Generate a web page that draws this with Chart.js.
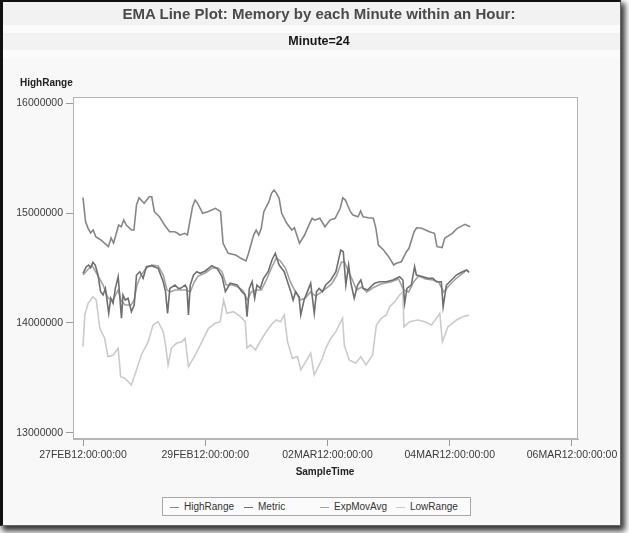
<!DOCTYPE html>
<html>
<head>
<meta charset="utf-8">
<title>EMA Line Plot</title>
<script src="https://cdn.jsdelivr.net/npm/chart.js@4.4.1/dist/chart.umd.min.js"></script>
<style>
  html, body { margin: 0; padding: 0; background: #fff; }
  #page {
    position: relative; width: 629px; height: 533px; overflow: hidden;
    font-family: "Liberation Sans", Arial, sans-serif;
  }
  #panel {
    position: absolute; left: 0; top: 0; width: 621px; height: 526px; box-sizing: border-box;
    border-left: 3px solid #111; border-top: 2px solid #111;
    border-right: 1px solid #666; border-bottom: 1px solid #666;
    box-shadow: 3px 4px 6px 1px #333;
    background: linear-gradient(to bottom,
      #f2f2f2 0px, #f2f2f2 23px, #fbfbfb 23px, #fbfbfb 31px,
      #f2f2f2 31px, #f2f2f2 48px, #fbfbfb 48px, #fbfbfb 56px,
      #f8f8f8 56px, #f8f8f8 100%);
  }
  canvas { position: absolute; left: 0; top: 0; }
  .txt { position: absolute; white-space: nowrap; }
  #title { left: 0; width: 638px; top: 5px; text-align: center; font: bold 15px/18px "Liberation Sans", Arial, sans-serif; color: #4a4a4a; }
  #subtitle { left: 0; width: 638px; top: 34px; text-align: center; font: bold 12.5px/15px "Liberation Sans", Arial, sans-serif; color: #151515; }
  #ytitle { left: 20px; top: 77px; font: bold 10px/12px "Liberation Sans", Arial, sans-serif; color: #222; }
  #xtitle { left: 0; width: 650px; top: 466px; text-align: center; font: bold 10px/12px "Liberation Sans", Arial, sans-serif; color: #222; }
  #legend {
    position: absolute; left: 162px; top: 497px; width: 309px; height: 19px; box-sizing: border-box;
    border: 1px solid #a8a8a8; background: #fbfbfb;
    font: 10px/17px "Liberation Sans", Arial, sans-serif; color: #333;
  }
  #legend .item { position: absolute; top: 0; }
  #legend .swatch { display: inline-block; width: 9px; height: 1px; vertical-align: middle; margin-right: 5px; }
</style>
</head>
<body>
<div id="page">
  <div id="panel"></div>
  <canvas id="chart" width="629" height="533"></canvas>
  <div class="txt" id="title">EMA Line Plot: Memory by each Minute within an Hour:</div>
  <div class="txt" id="subtitle">Minute=24</div>
  <div class="txt" id="ytitle">HighRange</div>
  <div class="txt" id="xtitle">SampleTime</div>
  <div id="legend"></div>
</div>
<script>
// hours after 27FEB12:00:00:00, one reading per sample (minute 24 of the hour)
const seriesNames = ["HighRange", "Metric", "ExpMovAvg", "LowRange"];

const xTickHours = [0, 48, 96, 144, 192];
const xTickLabels = ["27FEB12:00:00:00", "29FEB12:00:00:00", "02MAR12:00:00:00", "04MAR12:00:00:00", "06MAR12:00:00:00"];
const yTickValues = [13000000, 14000000, 15000000, 16000000];

const highHours = [
  0, 1, 2, 3, 4, 5, 7, 10, 11, 12,
  14, 15, 16, 17, 19, 20, 21, 22, 24, 26,
  27, 28, 30, 32, 34, 36, 37, 38, 40, 41,
  43, 44, 45, 47, 49, 52, 54, 55, 57, 60,
  62, 64, 65, 67, 68, 69, 70, 71, 73, 74,
  75, 76, 77, 78, 80, 82, 83, 85, 87, 89,
  90, 91, 93, 95, 97, 99, 101, 102, 103, 105,
  106, 108, 109, 110, 112, 114, 115, 116, 118, 120,
  122, 123, 125, 127, 128, 130, 131, 133, 136, 138,
  139, 141, 142, 143, 145, 147, 149, 150, 152
];
const highValues = [
  15140000, 14920000, 14860000, 14820000, 14845000, 14785000, 14755000, 14694000, 14773000, 14727000,
  14891000, 14875000, 14936000, 14891000, 14845000, 14845000, 15073000, 15139000, 15088000, 15148000,
  15148000, 15012000, 14966000, 14891000, 14830000, 14830000, 14818000, 14800000, 14815000, 14800000,
  15057000, 15118000, 15088000, 14997000, 15012000, 15043000, 15012000, 14725000, 14634000, 14618000,
  14588000, 14564000, 14634000, 14800000, 14845000, 14800000, 14861000, 15012000, 15103000, 15179000,
  15209000, 15179000, 15134000, 14997000, 14906000, 14845000, 14866000, 14725000, 14800000, 14906000,
  14952000, 14936000, 14952000, 14875000, 14936000, 14952000, 15043000, 15139000, 15118000, 15012000,
  14982000, 14966000, 15018000, 14966000, 14957000, 14952000, 14861000, 14709000, 14664000, 14603000,
  14527000, 14543000, 14557000, 14648000, 14679000, 14830000, 14866000, 14861000, 14830000, 14815000,
  14694000, 14685000, 14770000, 14785000, 14815000, 14861000, 14885000, 14897000, 14875000
];

const metricHours = [
  0, 1.3, 2.2, 3, 3.9, 4.8, 5.9, 6.9, 7.9, 8.8,
  10.1, 10.9, 11.8, 12.7, 13.8, 14.4, 15.1, 15.7, 16.6, 17.7,
  19, 20.1, 21, 22.3, 23.6, 24.9, 26.9, 29.5, 31.5, 32.4,
  33.2, 34.1, 36.1, 37.4, 38.2, 40.1, 40.8, 41.4, 42.1, 43.4,
  44.7, 46, 48, 50.6, 52.6, 54.6, 55.9, 57.8, 60.5, 62.4,
  63.7, 64.4, 65.3, 66.4, 67.4, 68.3, 69.6, 70.9, 72.7, 74.2,
  75.5, 77, 79, 80.3, 81.6, 82.5, 83.5, 84.8, 85.5, 86.8,
  88.1, 89.4, 90.8, 91.7, 92.7, 94, 95.3, 97.3, 99.3, 101.2,
  102.2, 103.2, 104.3, 105.2, 106.5, 107.8, 109.1, 110, 111.7, 113.7,
  114.5, 116.5, 119.1, 121.7, 124.3, 125.6, 126.3, 127.2, 128.9, 130.2,
  130.9, 133.5, 135.5, 137.4, 138.8, 140.7, 141.4, 142.7, 144.7, 146.6,
  148.6, 150.6, 151.6
];
const metricValues = [
  14452000, 14512000, 14527000, 14503000, 14552000, 14527000, 14436000, 14285000, 14255000, 14315000,
  14088000, 14225000, 14179000, 14315000, 14421000, 14255000, 14043000, 14255000, 14209000, 14225000,
  14103000, 14164000, 14436000, 14466000, 14406000, 14512000, 14521000, 14497000, 14375000, 14285000,
  14088000, 14315000, 14345000, 14315000, 14315000, 14345000, 14315000, 14073000, 14345000, 14436000,
  14466000, 14452000, 14473000, 14521000, 14497000, 14421000, 14285000, 14361000, 14345000, 14285000,
  14255000, 14057000, 14315000, 14375000, 14225000, 14345000, 14315000, 14406000, 14466000, 14573000,
  14634000, 14527000, 14466000, 14375000, 14285000, 14209000, 14285000, 14239000, 14073000, 14209000,
  14285000, 14361000, 14088000, 14285000, 14315000, 14285000, 14345000, 14391000, 14466000, 14664000,
  14648000, 14345000, 14527000, 14361000, 14225000, 14345000, 14391000, 14315000, 14300000, 14345000,
  14361000, 14375000, 14375000, 14391000, 14421000, 14391000, 14179000, 14315000, 14345000, 14512000,
  14436000, 14421000, 14406000, 14406000, 14375000, 14375000, 14148000, 14345000, 14391000, 14436000,
  14461000, 14482000, 14461000
];

const emaHours = [
  0, 3.5, 7.9, 9.8, 11.8, 13.8, 14.9, 16.5, 18.9, 20.1,
  21.2, 22.8, 24.8, 27.1, 29.5, 31.5, 33, 34.2, 36.2, 38.2,
  40.5, 42.1, 43.7, 45.2, 48, 50.7, 53.1, 54.6, 56.2, 58.6,
  60.9, 62.9, 64.5, 66.1, 68.1, 70, 72, 74, 75.9, 77.5,
  79.5, 81.4, 83.4, 85.4, 87.3, 89.3, 91.3, 93.2, 95.6, 97.6,
  99.5, 101.5, 102.7, 104.3, 105.8, 107.4, 109.4, 111.4, 113.7, 116.9,
  120.8, 123.9, 125.9, 127.9, 129.8, 131.8, 134.5, 137.3, 139.6, 141.6,
  143.6, 146.3, 148.7, 150.7, 151.5
];
const emaValues = [
  14436000, 14527000, 14345000, 14227000, 14209000, 14300000, 14209000, 14164000, 14164000, 14209000,
  14345000, 14436000, 14500000, 14527000, 14518000, 14436000, 14300000, 14282000, 14300000, 14300000,
  14300000, 14282000, 14373000, 14427000, 14455000, 14500000, 14500000, 14464000, 14345000, 14345000,
  14327000, 14291000, 14209000, 14282000, 14300000, 14300000, 14391000, 14500000, 14591000, 14564000,
  14500000, 14373000, 14282000, 14209000, 14227000, 14282000, 14245000, 14273000, 14318000, 14355000,
  14427000, 14555000, 14555000, 14464000, 14391000, 14300000, 14327000, 14282000, 14318000, 14355000,
  14373000, 14400000, 14300000, 14282000, 14373000, 14427000, 14400000, 14391000, 14373000, 14282000,
  14336000, 14400000, 14445000, 14482000, 14464000
];

const lowHours = [
  0, 0.7, 2, 3.9, 5.2, 6.6, 8.5, 9.8, 11.8, 13.8,
  14.8, 16.4, 19, 21, 22.9, 25.6, 27.5, 29.5, 31.5, 32.4,
  33.4, 34.7, 36.7, 38.8, 40.1, 41.4, 44.1, 46.7, 49.3, 51.9,
  53.9, 55.2, 56.5, 59.1, 61.8, 63.7, 64.4, 65.7, 67.7, 70.3,
  72.9, 74.4, 75.9, 77.6, 79, 80.3, 82.2, 84.2, 85.5, 87.5,
  89.4, 90.8, 92.7, 94, 95.3, 97.3, 99.3, 101.9, 102.6, 104.5,
  107.1, 109.1, 111.1, 113.7, 115.2, 117.1, 119.1, 120.4, 122.4, 124.3,
  125.6, 126, 128.3, 131.5, 134.2, 136.8, 138.8, 140.1, 141.1, 143.3,
  146.6, 149.2, 151.6
];
const lowValues = [
  13785000, 14073000, 14179000, 14239000, 14209000, 13952000, 13861000, 13694000, 13709000, 13770000,
  13512000, 13497000, 13436000, 13573000, 13709000, 13830000, 13982000, 14012000, 13921000, 13800000,
  13618000, 13770000, 13815000, 13830000, 13861000, 13603000, 13709000, 13830000, 13952000, 13997000,
  14012000, 14209000, 14088000, 14103000, 14057000, 14012000, 13770000, 13800000, 13755000, 13861000,
  13952000, 13997000, 14027000, 14012000, 14073000, 13830000, 13679000, 13694000, 13573000, 13648000,
  13725000, 13527000, 13618000, 13679000, 13770000, 13861000, 13921000, 14043000, 13800000, 13664000,
  13634000, 13694000, 13618000, 13709000, 13982000, 14043000, 14073000, 14148000, 14194000, 14255000,
  14285000, 13966000, 14012000, 14027000, 14012000, 13982000, 14043000, 14088000, 13830000, 13966000,
  14027000, 14057000, 14073000
];

const seriesColors = ["#868686", "#6f6f6f", "#a2a2a2", "#cbcbcb"];

const toPoints = (hours, values) => hours.map((h, i) => ({ x: h, y: values[i] }));
const allSeries = [
  toPoints(highHours, highValues),
  toPoints(metricHours, metricValues),
  toPoints(emaHours, emaValues),
  toPoints(lowHours, lowValues),
];

// white plot area with a thin grey frame
const frame = {
  id: "frame",
  beforeDatasetsDraw(chart) {
    const { ctx, chartArea: a } = chart;
    ctx.save();
    ctx.fillStyle = "#ffffff";
    ctx.fillRect(a.left, a.top, a.right - a.left, a.bottom - a.top);
    ctx.restore();
  },
  afterDraw(chart) {
    const { ctx, chartArea: a } = chart;
    ctx.save();
    ctx.strokeStyle = "#b4b4b4";
    ctx.lineWidth = 1;
    ctx.strokeRect(a.left + 0.5, a.top + 0.5, a.right - a.left - 1, a.bottom - a.top - 1);
    ctx.restore();
  },
};

const tickFont = { family: "'Liberation Sans', Arial, sans-serif", size: 10.5 };

new Chart(document.getElementById("chart"), {
  type: "line",
  data: {
    datasets: allSeries.map((pts, i) => ({
      label: seriesNames[i],
      data: pts,
      borderColor: seriesColors[i],
      borderWidth: 1.6,
      pointRadius: 0,
      tension: 0,
      fill: false,
    })),
  },
  options: {
    responsive: false,
    animation: false,
    events: [],
    layout: { padding: { left: 0, top: 97, right: 51, bottom: 64 } },
    plugins: { legend: { display: false }, title: { display: false }, tooltip: { enabled: false } },
    scales: {
      x: {
        type: "linear",
        min: -3.93,
        max: 194.36,
        afterBuildTicks: (s) => { s.ticks = xTickHours.map((v) => ({ value: v })); },
        afterFit: (s) => { s.height = 30; },
        grid: { drawOnChartArea: false, drawTicks: true, tickLength: 7, tickColor: "#999" },
        border: { display: true, color: "#b4b4b4" },
        ticks: {
          autoSkip: false, maxRotation: 0, minRotation: 0, padding: 3,
          color: "#3a3a3a", font: tickFont,
          callback: (v) => xTickLabels[xTickHours.indexOf(v)],
        },
      },
      y: {
        min: 12945000,
        max: 16055000,
        afterBuildTicks: (s) => { s.ticks = yTickValues.map((v) => ({ value: v })); },
        afterFit: (s) => { s.width = 73; },
        grid: { drawOnChartArea: false, drawTicks: true, tickLength: 7, tickColor: "#999" },
        border: { display: true, color: "#b4b4b4" },
        ticks: { padding: 3, color: "#3a3a3a", font: tickFont, callback: (v) => String(v) },
      },
    },
  },
  plugins: [frame],
});

// legend box like the original (line sample + name)
const legendOffsets = [7, 81, 157, 233];
const legend = document.getElementById("legend");
seriesNames.forEach((name, i) => {
  const item = document.createElement("span");
  item.className = "item";
  item.style.left = legendOffsets[i] + "px";
  item.innerHTML = '<span class="swatch" style="background:' + seriesColors[i] + '"></span>' + name;
  legend.appendChild(item);
});
</script>
</body>
</html>
